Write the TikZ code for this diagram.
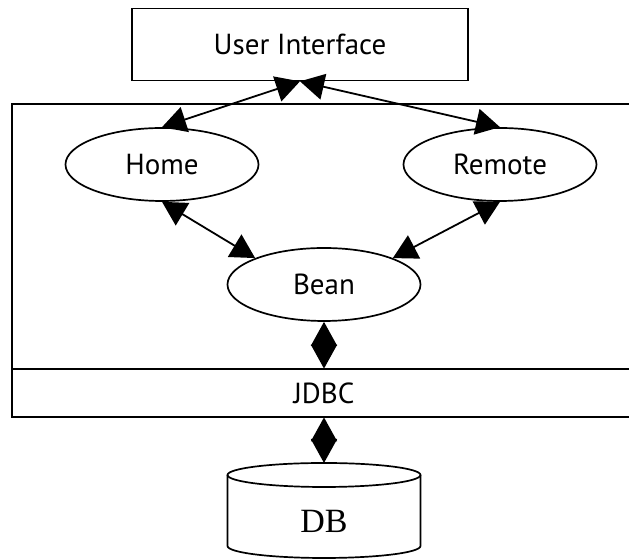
\documentclass[tikz,border=0pt]{standalone}
\usepackage{fontspec}
\setmainfont{Liberation Serif}
\newfontfamily\uifont{PT Sans}
\usetikzlibrary{arrows.meta, shapes.geometric}

\begin{document}
\begin{tikzpicture}[x=0.5pt, y=-0.5pt,
    box/.style={draw, line width=0.85pt, minimum width=168pt, minimum height=36pt,
                font=\uifont\fontsize{14.5pt}{17pt}\selectfont},
    oval/.style={draw, ellipse, line width=0.85pt, inner sep=0pt,
                 minimum width=96.5pt, minimum height=36.5pt,
                 font=\uifont\fontsize{14.5pt}{17pt}\selectfont},
    arr/.style={{Triangle[length=12pt, width=13pt]}-{Triangle[length=12pt, width=13pt]},
                line width=0.9pt}
  ]
    \useasboundingbox (0,0) rectangle (629,560);
    % User interface
    \node[box] (ui) at (300,44.5) {User Interface};
    % Container with JDBC row
    \draw[line width=0.85pt] (629,104) -| (12,417) -- (629,417);
    \draw[line width=0.85pt] (12,369) -- (629,369);
    \node[minimum height=24pt, font=\uifont\fontsize{14.5pt}{17pt}\selectfont]
      (jdbc) at (324,393) {JDBC};
    % Components
    \node[oval] (home) at (162,164.5) {Home};
    \node[oval] (remote) at (500,164.5) {Remote};
    \node[oval] (bean) at (324,284.5) {Bean};
    % Database
    \draw[line width=0.85pt] (324,475) ellipse [x radius=96.5, y radius=12];
    \draw[line width=0.85pt] (227.5,475) -- (227.5,546)
      arc [start angle=180, end angle=0, x radius=96.5, y radius=12] -- (420.5,475);
    \coordinate (dbtop) at (324,463);
    \node[font=\fontsize{17pt}{20pt}\selectfont] (db) at (324,521) {DB};
    % Arrows
    \draw[arr] (home.north) -- (ui.south);
    \draw[arr] (remote.north) -- (ui.south);
    \draw[arr] (home.south) -- (bean.north west);
    \draw[arr] (remote.south) -- (bean.north east);
    \draw[arr] (bean.south) -- (jdbc.north);
    \draw[arr] (jdbc.south) -- (dbtop);
\end{tikzpicture}
\end{document}
